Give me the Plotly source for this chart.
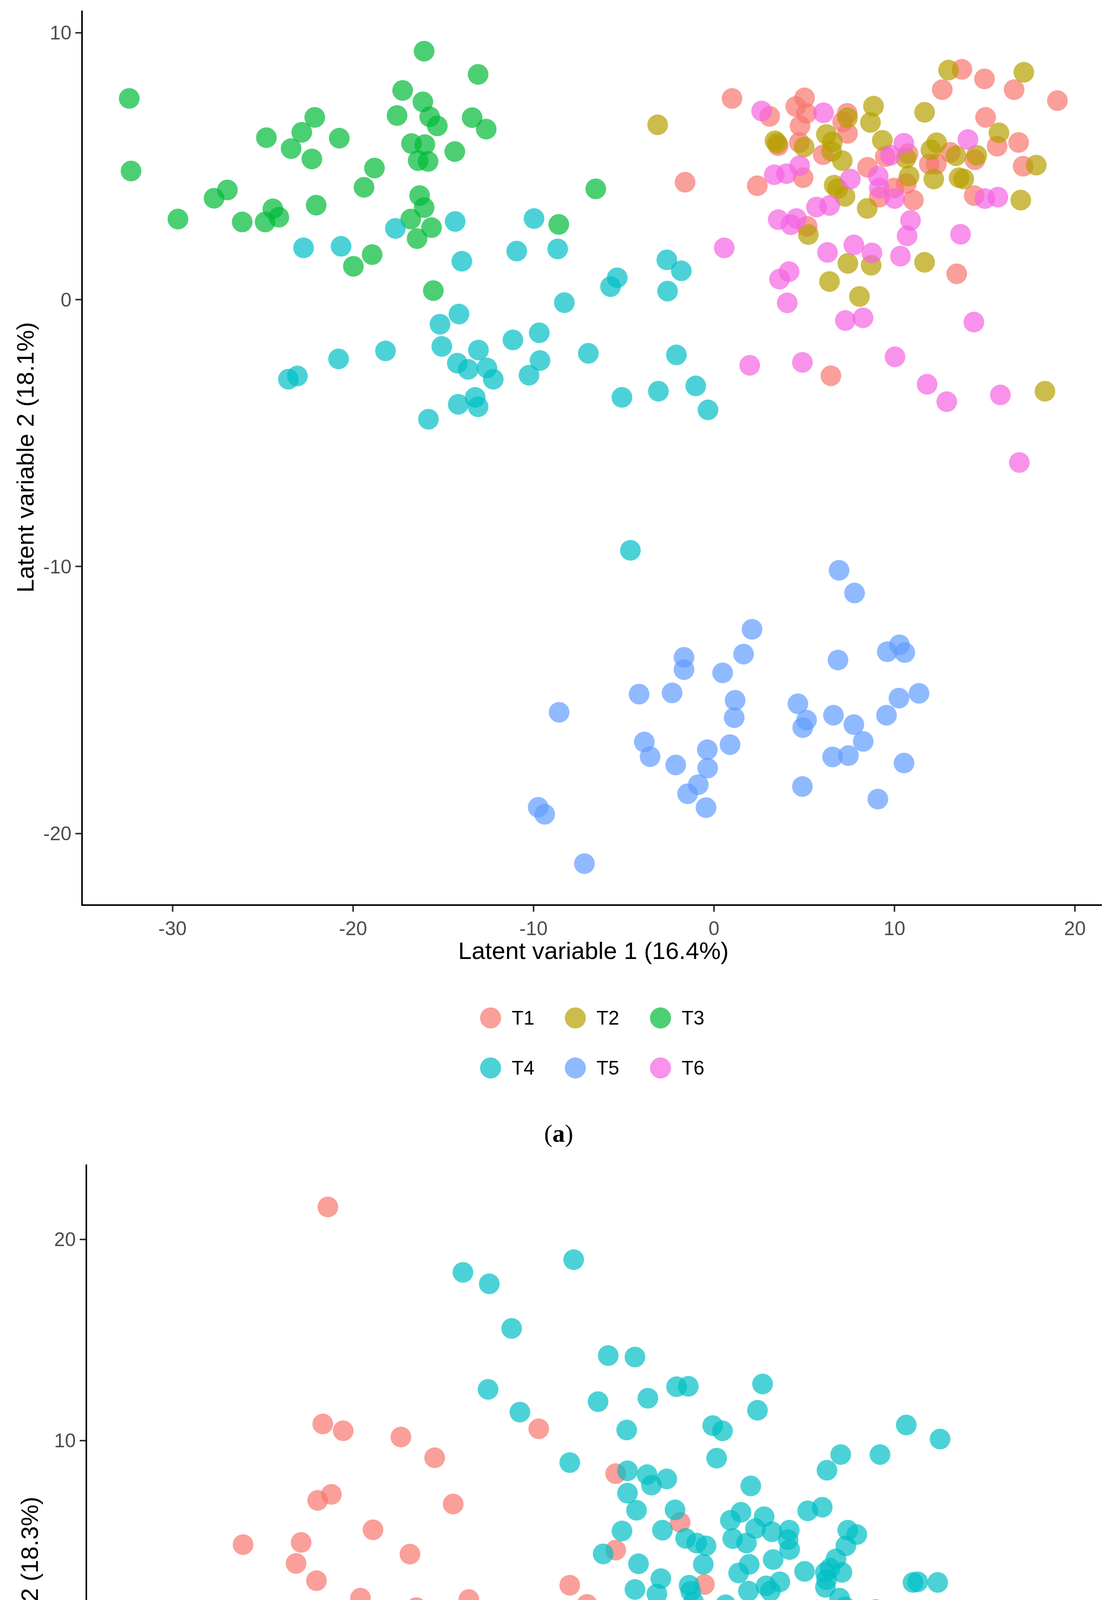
"""Two PLS-DA style score plots stacked, (a) six time points, (b) betaine vs placebo"""
import plotly.graph_objects as go

W, H = 2829, 5885

# ---- panel (a) data ----
t1_x = [1.0, -1.6, 2.40, 3.09, 4.53, 5.02, 5.12, 4.77, 4.73, 3.56, 6.05, 4.94, 7.38,
        7.40, 7.13, 8.51, 9.49, 9.16, 9.97, 10.66, 11.05, 11.93, 12.32, 13.10, 14.46,
        14.42, 12.65, 13.74, 14.99, 16.63, 19.03, 15.05, 16.88, 15.69, 17.13, 13.45,
        6.48, 5.16, 10.75]
t1_y = [7.54, 4.40, 4.27, 6.87, 7.24, 7.56, 6.98, 6.51, 5.89, 5.77, 5.43, 4.57, 6.98,
        6.23, 6.66, 4.96, 5.36, 3.84, 4.18, 4.35, 3.73, 5.08, 5.08, 5.52, 5.24,
        3.90, 7.87, 8.63, 8.27, 7.87, 7.46, 6.83, 5.89, 5.75, 5.00, 0.97,
        -2.85, 2.75, 5.47]

t2_x = [-3.12, 3.38, 3.50, 5.0, 6.23, 6.56, 6.52, 7.11, 7.40, 8.84, 8.67, 9.33, 11.67,
        13.0, 17.17, 12.34, 12.02, 10.64, 10.81, 12.18, 13.41, 14.56, 13.58, 13.84,
        15.79, 17.86, 17.0, 6.66, 6.85, 7.26, 8.49, 5.23, 7.42, 8.71, 11.67, 6.40,
        8.06, 18.34]
t2_y = [6.55, 5.95, 5.86, 5.72, 6.19, 5.91, 5.56, 5.21, 6.82, 7.25, 6.64, 5.97, 7.02,
        8.60, 8.52, 5.88, 5.61, 5.30, 4.63, 4.52, 5.39, 5.41, 4.57, 4.52,
        6.25, 5.04, 3.73, 4.29, 4.16, 3.87, 3.42, 2.44, 1.36, 1.29, 1.40, 0.68,
        0.12, -3.43]

t3_x = [-32.4, -32.3, -29.7, -27.7, -26.96, -26.14, -24.87, -24.44, -24.11, -24.8,
        -23.43, -22.84, -22.12, -22.28, -22.04, -20.76, -19.98, -19.39, -18.94, -18.81,
        -17.56, -17.25, -16.76, -16.39, -16.8, -16.45, -16.31, -16.06, -16.13, -16.06,
        -16.02, -15.84, -15.75, -15.65, -15.55, -15.33, -14.36, -13.4, -13.07, -12.62,
        -6.55, -8.6]
t3_y = [7.54, 4.82, 3.02, 3.80, 4.11, 2.91, 2.91, 3.40, 3.09, 6.07,
        5.66, 6.27, 6.83, 5.27, 3.54, 6.05, 1.25, 4.21, 1.69, 4.93,
        6.90, 7.84, 5.85, 5.21, 3.02, 2.29, 3.90, 3.45, 7.41, 9.31,
        5.81, 5.18, 6.85, 2.70, 0.34, 6.51, 5.55, 6.82, 8.44, 6.39,
        4.15, 2.82]

t4_x = [-17.65, -22.74, -20.66, -14.34, -9.97, -10.93, -13.97, -8.66, -8.29, -14.13,
        -15.18, -15.08, -13.05, -18.2, -20.8, -11.14, -9.68, -9.64, -10.25, -14.22,
        -13.62, -12.58, -12.23, -14.17, -13.23, -13.07, -15.82, -23.58, -23.08, -2.61,
        -1.81, -5.36, -5.73, -2.57, -6.96, -2.08, -5.10, -3.08, -1.01, -0.33, -4.63]
t4_y = [2.67, 1.94, 2.0, 2.93, 3.04, 1.82, 1.44, 1.90, -0.11, -0.54,
        -0.92, -1.75, -1.89, -1.92, -2.22, -1.51, -1.24, -2.28, -2.83, -2.38,
        -2.61, -2.56, -2.98, -3.92, -3.66, -4.01, -4.48, -2.98, -2.86, 1.49,
        1.08, 0.82, 0.49, 0.32, -2.01, -2.07, -3.66, -3.43, -3.23, -4.13, -9.39]

t5_x = [6.93, 7.79, 2.11, 1.64, -1.66, -1.66, 0.48, 6.87, 9.60, 10.28, 10.57, -4.15,
        -2.32, 1.17, 1.12, -8.58, 4.65, 5.13, 4.92, 6.62, 7.75, 9.56, 10.25, 11.36,
        -3.86, -3.54, -2.12, -0.37, 0.89, -0.35, -0.87, -1.46, -0.44, 6.57, 7.45,
        8.27, 10.53, 4.90, 9.08, -9.74, -9.38, -7.18]
t5_y = [-10.14, -10.99, -12.35, -13.28, -13.40, -13.86, -13.98, -13.50, -13.19, -12.93,
        -13.22, -14.78, -14.73, -15.01, -15.66, -15.46, -15.14, -15.75, -16.03, -15.57,
        -15.92, -15.57, -14.93, -14.75, -16.57, -17.12, -17.43, -16.86, -16.67, -17.55,
        -18.17, -18.51, -19.03, -17.13, -17.08, -16.55, -17.36, -18.24, -18.71, -19.02,
        -19.28, -21.13]

t6_x = [2.64, 6.07, 10.52, 9.78, 14.07, 4.75, 3.34, 4.02, 7.56, 9.10, 9.16, 10.01,
        5.68, 6.41, 3.56, 4.57, 4.26, 10.89, 10.70, 13.66, 15.01, 15.73, 0.57, 6.29,
        7.75, 8.75, 10.33, 4.16, 3.63, 4.06, 7.28, 8.26, 14.40, 1.98, 4.90, 10.03,
        11.81, 12.90, 15.87, 16.92]
t6_y = [7.07, 7.0, 5.86, 5.41, 6.0, 5.02, 4.68, 4.72, 4.52, 4.63, 4.18, 3.79,
        3.47, 3.53, 3.0, 3.04, 2.81, 2.97, 2.39, 2.45, 3.79, 3.84, 1.94, 1.77,
        2.05, 1.75, 1.63, 1.05, 0.77, -0.12, -0.78, -0.68, -0.84, -2.46, -2.35, -2.14,
        -3.17, -3.82, -3.57, -6.10]

groups_a = ['T1', 'T2', 'T3', 'T4', 'T5', 'T6']
colors_a = ['#F8766D', '#B79F00', '#00BA38', '#00BFC4', '#619CFF', '#F564E3']
xs_a = [t1_x, t2_x, t3_x, t4_x, t5_x, t6_x]
ys_a = [t1_y, t2_y, t3_y, t4_y, t5_y, t6_y]

# ---- panel (b) data ----
betaine_x = [-7.74, -7.87, -7.35, -5.88, -5.02, -2.37, -7.65, -8.0, -4.55, -6.59,
             -9.90, -8.42, -8.55, -5.65, -8.03, -6.91, -4.15, -1.58, -1.14, -5.49,
             -3.0, -2.94, -6.51, -6.51, -10.87, -10.61, -0.41, -0.41, 1.23, 1.85,
             3.77, -5.05, -4.99, -4.02, -3.44, -11.09, -12.70, -10.43, -9.07, -9.33,
             -8.08, -7.90, -7.94, -6.75, -7.18, -6.87, -6.19, -7.04, -6.36, -5.65,
             -5.43, -5.27, -5.18, -5.10, -4.75, -4.44, -4.28, -4.07, -3.95, -3.91,
             -3.54, -2.97, -3.64, -3.77, -2.09, -2.86, -5.50, -2.70, -7.98, -6.29,
             -5.91, -6.21, -6.17, -4.70, -4.10, -3.80, -3.96, -3.37, -3.11, -3.17,
             -2.63, -2.22, -1.94, -1.90, -1.38, -2.56, -1.93, -1.82, -3.06, -3.58,
             -6.87, -5.30, -4.58, -6.39, -4.21, -2.23, -2.01, -2.95, -3.14, -2.30,
             -2.18, -1.09, -0.68, -0.05, 0.30, 1.25, 0.70, 3.83, 4.06, 4.99,
             -0.21, -0.29, 1.71, 0.63, 2.57, -0.24, -0.11, 1.80, 2.11, 0.06,
             4.83, -0.06, 3.15, 4.35, 4.73]
betaine_y = [21.61, 10.82, 10.48, 10.17, 9.14, 10.58, 7.32, 7.02, 6.84, 5.56,
             4.82, 4.93, 3.89, 4.35, 3.03, 2.16, 2.09, 2.80, 1.85, 1.69,
             1.45, 1.55, 1.33, 1.16, 1.42, 0.90, 8.35, 4.55, 5.93, 2.84,
             1.45, 0.35, -0.17, 0.59, 0.63, -1.36, -3.57, -3.85, -3.69, -4.65,
             -1.34, -1.14, -2.37, 0.10, -0.84, -0.69, -0.79, -3.78, -3.91, -3.06,
             -3.39, -2.98, -3.09, -3.36, -4.46, -1.34, -1.31, -2.06, -0.75, -0.87,
             -1.34, -1.28, -2.60, -3.05, -2.80, -3.69, -5.54, -5.17, -7.43, -6.66,
             -6.66, -7.18, -7.92, -8.14, -6.21, -5.92, -7.44, -6.51, -6.03, -6.33,
             -6.63, -7.28, -7.03, -7.55, -7.96, -8.62, -9.03, -8.93, -9.26, -10.03,
             -8.88, -9.57, -10.99, -11.47, -12.48, -10.83, -11.73, -13.28, -13.68, -14.23,
             -15.42, -20.66, -3.92, 0.47, 0.05, -0.20, -2.47, -1.27, -3.88, -3.38,
             -4.43, -5.47, -4.94, -6.70, -6.75, -7.22, -7.67, -8.66, -8.54, -10.19,
             -9.58, -12.82, -12.42, -12.67, -13.68]

placebo_x = [-4.3, -3.63, -1.48, -3.06, -0.6, -3.66, -2.85, -0.86, -1.58, -0.73,
             0.08, 1.14, 1.44, 0.41, 3.33, 3.20, -0.13, 2.06, 2.31, 2.16,
             6.99, 7.85, 5.32, 6.32, 4.97, -0.11, 0.39, 0.50, 0.89, -0.11,
             3.03, 0.12, 1.10, -0.25, 0.78, 1.37, 1.65, 1.89, 1.82, 0.17,
             0.74, 0.08, 0.64, 1.46, 1.50, 1.57, 1.47, 2.39, 2.51, 2.78,
             2.57, 2.92, 3.15, 3.37, 3.57, 4.01, 3.98, 4.02, 3.60, 2.99,
             2.72, 2.97, 3.42, 3.77, 3.53, 4.48, 4.85, 5.50, 5.73, 5.45,
             5.20, 4.40, 4.93, 5.35, 5.05, 4.96, 4.93, 5.29, 5.43, 6.21,
             7.16, 7.28, 7.79, 2.78, 3.07, 3.57, 4.09, 5.53, 5.55, 5.88,
             7.08, 8.56, 4.06, 4.78, 4.96, 5.22, 3.35, 4.33, 1.73, 2.34,
             3.25, 4.49, 4.57, 4.99, 5.74, 6.30, 6.19, 6.72, 7.65, 8.39,
             7.79, 9.95, 6.94, 7.47, 10.56, 10.51, 8.33, 8.05, 7.83, 9.50,
             8.23, 10.72, 9.09, 3.55]
placebo_y = [18.36, 17.79, 18.99, 15.57, 14.22, 12.54, 11.41, 11.93, 8.90, 4.36,
             14.15, 12.67, 12.69, 12.10, 12.81, 11.50, 10.52, 10.74, 10.48, 9.12,
             10.77, 10.07, 9.30, 9.30, 8.52, 8.49, 8.30, 7.78, 8.09, 7.38,
             7.74, 6.53, 6.55, 5.50, 5.54, 5.13, 4.90, 4.76, 3.84, 3.87,
             3.13, 2.59, 2.37, 2.80, 2.50, 1.98, 1.52, 1.83, 6.03, 6.43,
             5.12, 4.90, 5.62, 6.21, 5.46, 5.54, 5.07, 4.58, 4.08, 3.84,
             3.41, 2.51, 2.77, 2.97, 2.51, 6.50, 6.68, 5.54, 5.32, 4.76,
             4.11, 3.49, 3.44, 3.44, 3.65, 3.08, 2.70, 2.16, 1.73, 1.59,
             2.94, 2.97, 2.94, 1.09, 0.88, 1.02, 1.16, 0.95, 0.55, 0.17,
             -0.30, -0.13, -0.05, -0.23, -0.05, -0.50, -0.79, -1.80, -2.23, -2.72,
             -2.20, -3.12, -3.61, -2.68, -3.29, -2.20, -2.60, -3.72, -2.62, -2.84,
             -3.93, -4.77, -6.11, -6.02, -6.52, -8.41, -8.44, -9.40, -9.92, -11.99,
             -13.62, -13.64, -19.19, -12.45]

groups_b = ['Betaine', 'Placebo']
colors_b = ['#F8766D', '#00BFC4']
xs_b = [betaine_x, placebo_x]
ys_b = [betaine_y, placebo_y]

# tick labels
ticks_a_x = [-30, -20, -10, 0, 10, 20]
ticks_a_y = [-20, -10, 0, 10]
ticks_b_x = [-10, -5, 0, 5, 10]
ticks_b_y = [-20, -10, 0, 10, 20]

title_a_x = 'Latent variable 1 (16.4%)'
title_a_y = 'Latent variable 2 (18.1%)'
title_b_x = 'Latent variable 1 (53.5%)'
title_b_y = 'Latent variable 2 (18.3%)'


def px(p):
    return p / W


def py(p):
    return 1 - p / H


def expand(vals, mult=0.05):
    """ggplot style 5% padding"""
    lo, hi = min(vals), max(vals)
    pad = (hi - lo) * mult
    return [lo - pad, hi + pad]


def axis_style(domain, rng, ticks, anchor):
    return dict(
        domain=domain, range=rng, anchor=anchor,
        tickvals=ticks, ticktext=[str(t) for t in ticks],
        showgrid=False, zeroline=False,
        showline=True, linecolor='black', linewidth=4,
        ticks='outside', ticklen=15, tickwidth=4, tickcolor='#333333',
        ticklabelstandoff=0,
        tickfont=dict(family='Liberation Sans, Arial', size=50, color='#4D4D4D'),
    )


fig = go.Figure()

for name, col, xv, yv in zip(groups_a, colors_a, xs_a, ys_a):
    fig.add_trace(go.Scatter(
        x=xv, y=yv, mode='markers', name=name, xaxis='x', yaxis='y',
        marker=dict(size=53, color=col, opacity=0.7, line=dict(width=0)),
        showlegend=False,
    ))

for name, col, xv, yv in zip(groups_b, colors_b, xs_b, ys_b):
    fig.add_trace(go.Scatter(
        x=xv, y=yv, mode='markers', name=name, xaxis='x2', yaxis='y2',
        marker=dict(size=53, color=col, opacity=0.7, line=dict(width=0)),
        showlegend=False,
    ))

# plot areas in pixels: (left, top, right, bottom)
box_a = (204, 19, 2818, 2307)
box_b = (215, 2973, 2805, 5367)

all_ax = sum(xs_a, [])
all_ay = sum(ys_a, [])
all_bx = sum(xs_b, [])
all_by = sum(ys_b, [])

fig.update_layout(
    width=W, height=H,
    margin=dict(l=0, r=0, t=0, b=0),
    paper_bgcolor='white', plot_bgcolor='white',
    showlegend=False,
    xaxis=axis_style([px(box_a[0]), px(box_a[2])], expand(all_ax), ticks_a_x, 'y'),
    yaxis=axis_style([py(box_a[3]), py(box_a[1])], expand(all_ay), ticks_a_y, 'x'),
    xaxis2=axis_style([px(box_b[0]), px(box_b[2])], expand(all_bx), ticks_b_x, 'y2'),
    yaxis2=axis_style([py(box_b[3]), py(box_b[1])], expand(all_by), ticks_b_y, 'x2'),
)

title_font = dict(family='Liberation Sans, Arial', size=62, color='black')
annotations = []
for box, tx, ty in [(box_a, title_a_x, title_a_y), (box_b, title_b_x, title_b_y)]:
    annotations.append(dict(
        text=tx, xref='paper', yref='paper', showarrow=False,
        x=px((box[0] + box[2]) / 2), y=py(box[3] + 118),
        xanchor='center', yanchor='middle', font=title_font))
    annotations.append(dict(
        text=ty, xref='paper', yref='paper', showarrow=False, textangle=-90,
        x=px(box[0] - 148), y=py((box[1] + box[3]) / 2),
        xanchor='center', yanchor='middle', font=title_font))

# panel labels
for label, ypix in [('(<b>a</b>)', 2893), ('(<b>b</b>)', 5825)]:
    annotations.append(dict(
        text=label, xref='paper', yref='paper', showarrow=False,
        x=px(1422), y=py(ypix), xanchor='center', yanchor='middle',
        font=dict(family='Liberation Serif, Times New Roman', size=64, color='black')))

# legends: big circle keys drawn as pixel-sized shapes
shapes = []
legend_font = dict(family='Liberation Sans, Arial', size=50, color='black')


def legend_row(names, cols, x_centres, ypix):
    for name, col, xc in zip(names, cols, x_centres):
        shapes.append(dict(
            type='circle', xref='paper', yref='paper',
            xsizemode='pixel', ysizemode='pixel',
            xanchor=px(xc), yanchor=py(ypix),
            x0=-27, x1=27, y0=-27, y1=27,
            fillcolor=col, opacity=0.7, line=dict(width=0)))
        annotations.append(dict(
            text=name, xref='paper', yref='paper', showarrow=False,
            x=px(xc + 52), y=py(ypix), xanchor='left', yanchor='middle',
            font=legend_font))


legend_row(groups_a[:3], colors_a[:3], [1248, 1465, 1683], 2598)
legend_row(groups_a[3:], colors_a[3:], [1248, 1465, 1683], 2726)
legend_row(groups_b, colors_b, [1241, 1566], 5655)

fig.update_layout(annotations=annotations, shapes=shapes)

fig.write_html('out.html')
